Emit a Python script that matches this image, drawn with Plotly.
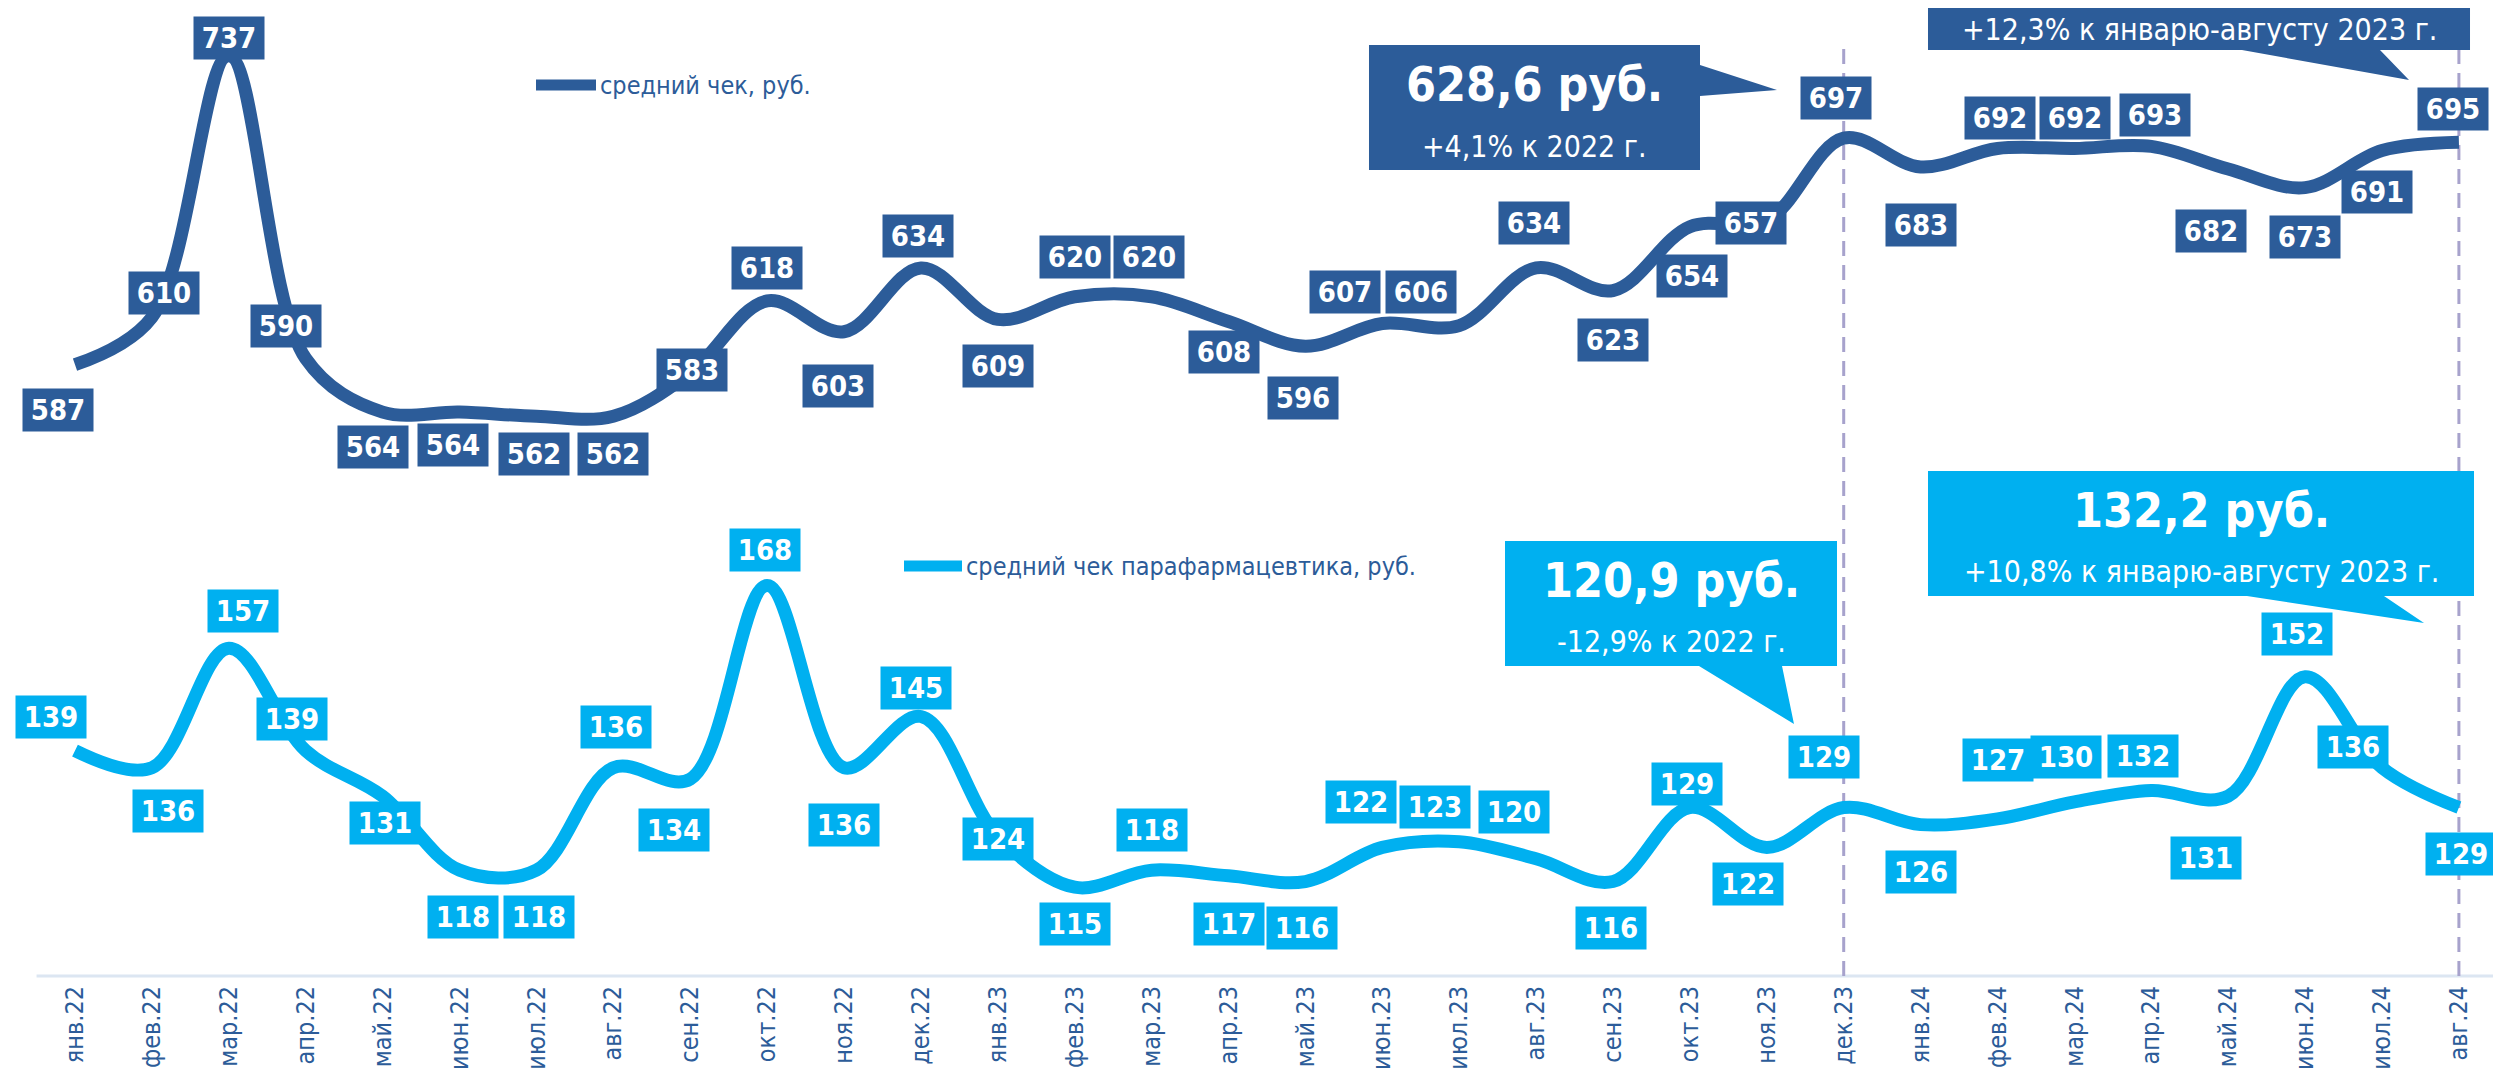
import plotly.graph_objects as go

# ---------------- data ----------------
months = ["янв.22", "фев.22", "мар.22", "апр.22", "май.22", "июн.22", "июл.22", "авг.22",
          "сен.22", "окт.22", "ноя.22", "дек.22", "янв.23", "фев.23", "мар.23", "апр.23",
          "май.23", "июн.23", "июл.23", "авг.23", "сен.23", "окт.23", "ноя.23", "дек.23",
          "янв.24", "фев.24", "мар.24", "апр.24", "май.24", "июн.24", "июл.24", "авг.24"]
avg_check = [587, 610, 737, 590, 564, 564, 562, 562, 583, 618, 603, 634, 609, 620, 620, 608,
             596, 607, 606, 634, 623, 654, 657, 697, 683, 692, 692, 693, 682, 673, 691, 695]
avg_para = [139, 136, 157, 139, 131, 118, 118, 136, 134, 168, 136, 145, 124, 115, 118, 117,
            116, 122, 123, 120, 116, 129, 122, 129, 126, 127, 130, 132, 131, 152, 136, 129]
series_names = ["средний чек, руб.", "средний чек парафармацевтика, руб."]
marker_months = ["дек.23", "авг.24"]
callout_main = ["628,6 руб.", None, "120,9 руб.", "132,2 руб."]
callout_sub = ["+4,1% к 2022 г.", "+12,3% к январю-августу 2023 г.",
               "-12,9% к 2022 г.", "+10,8% к январю-августу 2023 г."]

# ---------------- styles ----------------
DARK = "#2C5C99"
LIGHT = "#00B0F0"
TXT = "#2C5C99"
FONT = "DejaVu Sans Condensed, Liberation Sans Narrow, sans-serif"
W, H = 2501, 1081
PB = 968  # plot bottom in px

# label offsets (px) relative to each point: (dx, dy) with dy positive = down
off_check = [(-17, 45), (12, -24), (0, -18), (-20, -33), (-10, 35), (-7, 33), (-2, 38), (0, 38),
             (2, -3), (0, -33), (-6, 54), (-3, -32), (0, 47), (0, -40), (-3, -40), (-5, 31),
             (-2, 52), (-37, -32), (-38, -34), (-2, -45), (0, 49), (2, 49), (-16, 2), (-8, -40),
             (0, 58), (2, -30), (1, -30), (4, -31), (-17, 62), (0, 49), (-5, 41), (-6, -33)]
off_para = [(-24, -34), (16, 43), (14, -37), (-14, -32), (2, 27), (3, 47), (3, 47), (3, -41),
            (-16, 51), (-2, -36), (0, 57), (-5, -29), (0, 3), (0, 37), (0, -40), (0, 48),
            (-3, 46), (-21, -45), (-24, -35), (-22, -47), (-2, 46), (-3, -24), (-19, 37), (-20, -51),
            (0, 47), (0, -59), (-8, -45), (-8, -34), (-22, 62), (-8, -43), (-29, -21), (2, 46)]


def px(x):
    return x / W


def py(y):
    return (PB - y) / PB


fig = go.Figure()
fig.add_trace(go.Scatter(x=months, y=avg_check, mode="lines", yaxis="y",
                         line=dict(color=DARK, width=13, shape="spline", smoothing=1.0),
                         showlegend=False, hoverinfo="skip"))
fig.add_trace(go.Scatter(x=months, y=avg_para, mode="lines", yaxis="y2",
                         line=dict(color=LIGHT, width=13, shape="spline", smoothing=1.0),
                         showlegend=False, hoverinfo="skip"))

annotations = []
for vals, offs, yref, col in [(avg_check, off_check, "y", DARK), (avg_para, off_para, "y2", LIGHT)]:
    for m, v, (dx, dy) in zip(months, vals, offs):
        annotations.append(dict(x=m, y=v, xref="x", yref=yref, text=str(v), showarrow=False,
                                xshift=dx, yshift=-dy, bgcolor=col, width=66, height=38, borderpad=2,
                                font=dict(family=FONT, size=29, color="white", weight=700)))

shapes = []
# axis baseline
shapes.append(dict(type="line", xref="x", yref="paper", x0=-0.5, x1=31.5, y0=0, y1=0,
                   line=dict(color="#DCE6F2", width=3), layer="below"))
# dashed markers
for m in marker_months:
    shapes.append(dict(type="line", xref="x", yref="paper", x0=m, x1=m, y0=0, y1=py(40),
                       line=dict(color="#A7A2CC", width=3, dash="15px,9px"), layer="below"))


def poly(points):
    return "M " + " L ".join(f"{px(a):.5f},{py(b):.5f}" for a, b in points) + " Z"


callout_shapes = [
    (DARK, [(1361, 37), (1692, 37), (1692, 57), (1769, 82), (1692, 88), (1692, 162), (1361, 162)]),
    (DARK, [(1920, -100), (2462, -100), (2462, 42), (2372, 42), (2401, 72), (2234, 42), (1920, 42)]),
    (LIGHT, [(1497, 533), (1829, 533), (1829, 658), (1774, 658), (1786, 716), (1691, 658), (1497, 658)]),
    (LIGHT, [(1920, 463), (2466, 463), (2466, 588), (2376, 588), (2416, 615), (2239, 588), (1920, 588)]),
]
for col, pts in callout_shapes:
    shapes.append(dict(type="path", xref="paper", yref="paper", path=poly(pts),
                       fillcolor=col, line=dict(width=0), layer="above"))

# (x center, y main, y sub) in px
callout_centers = [(1526, 76, 138), (2191, None, 22), (1663, 572, 633), (2193, 502, 563)]
for (cx, y1, y2), t1, t2 in zip(callout_centers, callout_main, callout_sub):
    if t1 is not None:
        annotations.append(dict(x=px(cx), y=py(y1), xref="paper", yref="paper", text=t1,
                                showarrow=False, xanchor="center", yanchor="middle",
                                font=dict(family=FONT, size=48, color="white", weight=700)))
    annotations.append(dict(x=px(cx), y=py(y2), xref="paper", yref="paper", text=t2,
                            showarrow=False, xanchor="center", yanchor="middle",
                            font=dict(family=FONT, size=30, color="white")))

# manual legends
legend_pos = [(528, 588, 77, DARK), (896, 954, 558, LIGHT)]
for name, (x0, x1, yy, col) in zip(series_names, legend_pos):
    shapes.append(dict(type="line", xref="paper", yref="paper", x0=px(x0), x1=px(x1),
                       y0=py(yy), y1=py(yy), line=dict(color=col, width=11)))
    annotations.append(dict(x=px(x1 + 2), y=py(yy), xref="paper", yref="paper", text=name,
                            showarrow=False, xanchor="left", yanchor="middle",
                            font=dict(family=FONT, size=25, color=TXT)))

fig.update_layout(
    width=W, height=H,
    margin=dict(l=0, r=0, t=0, b=H - PB),
    paper_bgcolor="white", plot_bgcolor="white",
    xaxis=dict(type="category", range=[-67 / 76.9, (W - 67) / 76.9], showgrid=False,
               zeroline=False, showline=False, ticks="", tickangle=-90,
               ticklabelstandoff=4,
               tickfont=dict(family=FONT, size=25, color=TXT)),
    yaxis=dict(range=[290.2, 760.2], visible=False),
    yaxis2=dict(range=[99.4, 269.5], overlaying="y", visible=False),
    shapes=shapes, annotations=annotations,
)

fig.write_html("out.html")
